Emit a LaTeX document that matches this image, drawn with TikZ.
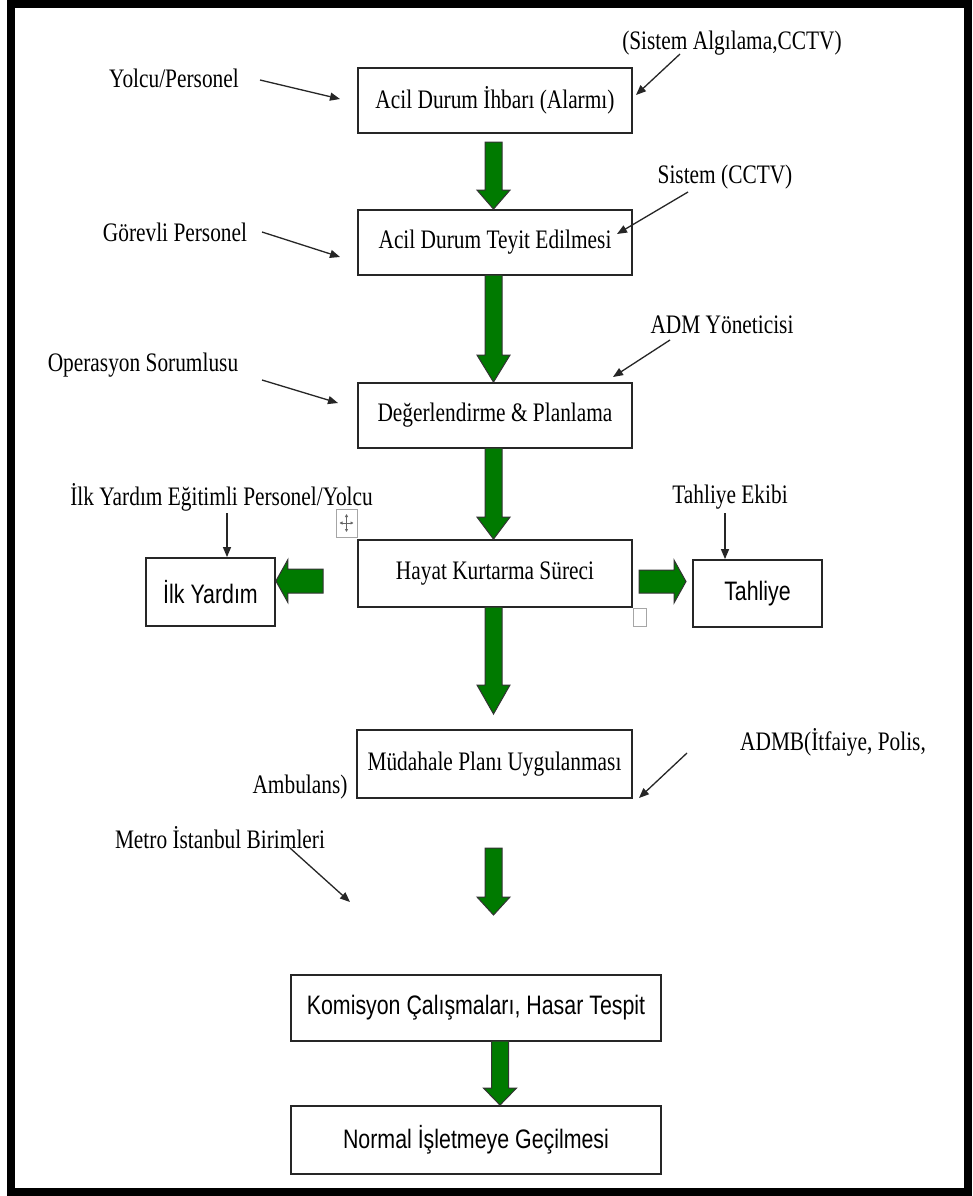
\documentclass[tikz,border=0pt]{standalone}
\usepackage{fontspec}
\setmainfont{Liberation Serif}[FakeStretch=0.8]
\newfontfamily\sansc{Liberation Sans}[FakeStretch=0.8]
\usetikzlibrary{arrows.meta,calc}
\definecolor{gfill}{RGB}{0,122,0}
\newcommand\fs{\fontsize{26.7pt}{30pt}\selectfont}
\newcommand\gdown[3]{\draw[garrow] let \p1=(#1), \p2=(#2) in
  (\x1-8.5pt,\y1) -- (\x1-8.5pt,\y2+#3) -- (\x1-16.5pt,\y2+#3) -- (\x1,\y2) --
  (\x1+16.5pt,\y2+#3) -- (\x1+8.5pt,\y2+#3) -- (\x1+8.5pt,\y1) -- cycle;}
\newcommand\gleft[3]{\draw[garrow] let \p1=(#1), \p2=(#2) in
  (\x1,\y1+12pt) -- (\x2+#3,\y1+12pt) -- (\x2+#3,\y1+21.5pt) -- (\x2,\y1) --
  (\x2+#3,\y1-21.5pt) -- (\x2+#3,\y1-12pt) -- (\x1,\y1-12pt) -- cycle;}
\newcommand\gright[3]{\draw[garrow] let \p1=(#1), \p2=(#2) in
  (\x1,\y1+11.5pt) -- (\x2-#3,\y1+11.5pt) -- (\x2-#3,\y1+21.5pt) -- (\x2,\y1) --
  (\x2-#3,\y1-21.5pt) -- (\x2-#3,\y1-11.5pt) -- (\x1,\y1-11.5pt) -- cycle;}
\begin{document}
\begin{tikzpicture}[x=1pt,y=-1pt,
  box/.style={draw=black!85, line width=1.8pt, fill=white, inner sep=0pt, font=\fs},
  lbl/.style={inner sep=0pt, font=\fs},
  thinarrow/.style={draw=black!85, line width=1.3pt, -{Triangle[length=10pt,width=8pt]}},
  garrow/.style={draw=black!80, line width=1pt, fill=gfill, line join=miter},
  handle/.style={draw=black!35, line width=1pt, fill=white}]
\useasboundingbox (0,0) rectangle (972,1196);
\fill[white] (0,0) rectangle (972,1196);
\draw[line width=8pt] (11,4) rectangle (968,1192);

% main boxes
\node[box, minimum width=274pt, minimum height=65pt] (B1) at (495,100.5) {Acil Durum İhbarı (Alarmı)};
\node[box, minimum width=274pt, minimum height=65pt] (B2) at (495,242.5) {Acil Durum Teyit Edilmesi};
\node[box, minimum width=274pt, minimum height=65pt] (B3) at (495,415.5) {Değerlendirme \& Planlama};
\node[box, minimum width=274pt, minimum height=67pt] (B4) at (495,573.5) {Hayat Kurtarma Süreci};
\node[box, minimum width=129pt, minimum height=68pt, font=\fs\sansc] (IY) at (210.5,592) {İlk Yardım};
\node[box, minimum width=129pt, minimum height=67pt, font=\fs\sansc] (TH) at (757.5,593.5) {Tahliye};
\node[box, minimum width=275pt, minimum height=68pt] (B5) at (494.5,764) {Müdahale Planı Uygulanması};
\node[box, minimum width=370pt, minimum height=66pt, font=\fs\sansc] (B6) at (476,1008) {Komisyon Çalışmaları, Hasar Tespit};
\node[box, minimum width=370pt, minimum height=68pt, font=\fs\sansc] (B7) at (476,1140) {Normal İşletmeye Geçilmesi};

% labels
\node[lbl] (sis1) at (732,43) {(Sistem Algılama,CCTV)};
\node[lbl] (yolcu) at (174,78) {Yolcu/Personel};
\node[lbl] (sis2) at (725,177) {Sistem (CCTV)};
\node[lbl] (gorevli) at (175,232) {Görevli Personel};
\node[lbl] (adm) at (722,325) {ADM Yöneticisi};
\node[lbl] (ops) at (143,365) {Operasyon Sorumlusu};
\node[lbl, anchor=east] (iyl) at (373,497) {İlk Yardım Eğitimli Personel/Yolcu};
\node[lbl] (thl) at (730,497) {Tahliye Ekibi};
\node[lbl] (admb) at (833,742) {ADMB(İtfaiye, Polis,};
\node[lbl] (amb) at (300,787) {Ambulans)};
\node[lbl] (metro) at (220,838) {Metro İstanbul Birimleri};

% free ends of connectors
\coordinate (yolcuS) at (260,80);   \coordinate (yolcuT) at (340,99);
\coordinate (sis1S) at (680,54);    \coordinate (sis1T) at (636,95);
\coordinate (sis2S) at (688,192);   \coordinate (sis2T) at (617,234);
\coordinate (gorS) at (262,232);    \coordinate (gorT) at (340,257);
\coordinate (admS) at (670,340);    \coordinate (admT) at (613,377);
\coordinate (opsS) at (262,380);    \coordinate (opsT) at (338,403);
\coordinate (iyS) at (227,513);
\coordinate (thS) at (725,513);
\coordinate (admbS) at (687,753);   \coordinate (admbT) at (639,798);
\coordinate (metroS) at (290,848);  \coordinate (metroT) at (350,902);

\draw[thinarrow] (yolcuS) -- (yolcuT);
\draw[thinarrow] (sis1S) -- (sis1T);
\draw[thinarrow] (sis2S) -- (sis2T);
\draw[thinarrow] (gorS) -- (gorT);
\draw[thinarrow] (admS) -- (admT);
\draw[thinarrow] (opsS) -- (opsT);
\draw[thinarrow] (iyS) -- (iyS |- IY.north);
\draw[thinarrow] (thS) -- (thS |- TH.north);
\draw[thinarrow] (admbS) -- (admbT);
\draw[thinarrow] (metroS) -- (metroT);

% green block arrows
\coordinate (a1s) at (493.5,142);
\coordinate (a2s) at (493.5,275);
\coordinate (a3s) at (493.5,448);
\coordinate (a4s) at (493.5,607);  \coordinate (a4t) at (493.5,714);
\coordinate (a5s) at (493.5,848);  \coordinate (a5t) at (493.5,915);
\coordinate (a6s) at (500,1041);
\coordinate (lfs) at (323,581);
\coordinate (rts) at (639,581.5);  \coordinate (rtt) at (686,581.5);
\gdown{a1s}{a1s |- B2.north}{19pt}
\gdown{a2s}{a2s |- B3.north}{27pt}
\gdown{a3s}{a3s |- B4.north}{22pt}
\gdown{a4s}{a4t}{29pt}
\gdown{a5s}{a5t}{18pt}
\gdown{a6s}{a6s |- B7.north}{17pt}
\gleft{lfs}{lfs -| IY.east}{12pt}
\gright{rts}{rtt}{12pt}

% Word table handles
\node[handle, minimum width=21pt, minimum height=28pt, inner sep=0pt] (mv) at (346.5,523) {};
\draw[black!60, line width=0.8pt, {Triangle[length=3pt,width=3pt]}-{Triangle[length=3pt,width=3pt]}] (mv.center) ++(-7,0) -- ++(14,0);
\draw[black!60, line width=0.8pt, {Triangle[length=3pt,width=3pt]}-{Triangle[length=3pt,width=3pt]}] (mv.center) ++(0,-9) -- ++(0,18);
\node[handle, minimum width=13pt, minimum height=18pt, inner sep=0pt] (rs) at (639.5,617) {};
\end{tikzpicture}
\end{document}
